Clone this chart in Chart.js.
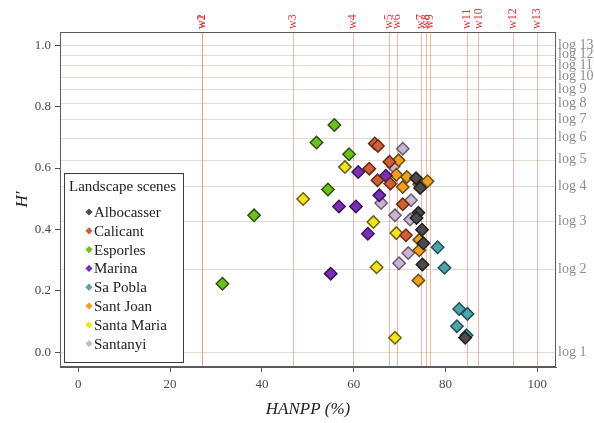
<!DOCTYPE html>
<html>
<head>
<meta charset="utf-8">
<script src="https://cdn.jsdelivr.net/npm/chart.js@4.4.0/dist/chart.umd.min.js"></script>
<style>
  html, body { margin: 0; padding: 0; background: #fff; }
  #wrap { width: 594px; height: 423px; }
</style>
</head>
<body>
<div id="wrap"><canvas id="chart" width="594" height="423"></canvas></div>
<script>
// HANPP (%) vs H' for each landscape scene
const albocasser = [[73.6, 0.567], [74.5, 0.535], [74.1, 0.454], [73.7, 0.437], [74.9, 0.399], [75.2, 0.355], [75.0, 0.286], [84.3, 0.047]];
const calicant = [[64.6, 0.680], [65.3, 0.672], [63.4, 0.598], [65.2, 0.560], [67.8, 0.620], [68.0, 0.549], [70.7, 0.482], [71.4, 0.381]];
const esporles = [[31.4, 0.223], [38.3, 0.446], [51.9, 0.683], [55.8, 0.740], [59.0, 0.645], [54.4, 0.530]];
const marina = [[55.0, 0.256], [56.8, 0.475], [60.5, 0.475], [61.0, 0.587], [63.1, 0.386], [65.6, 0.511], [67.0, 0.575]];
const saPobla = [[78.3, 0.342], [79.8, 0.275], [83.0, 0.141], [84.8, 0.125], [82.5, 0.085], [84.6, 0.055]];
const santJoan = [[69.8, 0.625], [69.3, 0.578], [71.6, 0.571], [70.7, 0.538], [74.3, 0.547], [76.1, 0.557], [74.3, 0.366], [74.3, 0.332], [74.1, 0.234]];
const santaMaria = [[49.0, 0.499], [58.1, 0.603], [64.3, 0.424], [69.3, 0.388], [65.0, 0.277], [69.0, 0.047]];
const santanyi = [[70.7, 0.663], [68.7, 0.605], [66.0, 0.486], [72.5, 0.495], [69.0, 0.446], [72.3, 0.432], [71.9, 0.323], [69.9, 0.290]];

const sceneNames = ["Albocasser", "Calicant", "Esporles", "Marina", "Sa Pobla", "Sant Joan", "Santa Maria", "Santanyi"];
const sceneData = [albocasser, calicant, esporles, marina, saPobla, santJoan, santaMaria, santanyi];

// reference lines: w thresholds on HANPP, log n levels on H'
const wLabels = ["w1", "w2", "w3", "w4", "w5", "w6", "w7", "w8", "w9", "w10", "w11", "w12", "w13"];
const wValues = [26.9, 26.9, 46.8, 59.8, 67.7, 69.5, 74.7, 75.7, 76.7, 87.2, 84.7, 94.7, 99.9];
const logLabels = ["log 1", "log 2", "log 3", "log 4", "log 5", "log 6", "log 7", "log 8", "log 9", "log 10", "log 11", "log 12", "log 13"];
const logValues = [0, 0.270, 0.428, 0.540, 0.627, 0.699, 0.759, 0.811, 0.857, 0.898, 0.935, 0.969, 1.0];

const xTicks = [0, 20, 40, 60, 80, 100];
const yTicks = [0, 0.2, 0.4, 0.6, 0.8, 1.0];

const fills = ["#4b4b4b", "#d0603a", "#6cc020", "#7a30b0", "#52a2aa", "#f0a020", "#f2e41e", "#c9b6d2"];
const edges = ["#1e1e1e", "#6a2a12", "#2a5010", "#3a1060", "#1f5058", "#6a4a10", "#6a6010", "#6a5a72"];

const SERIF = "'Liberation Serif', 'DejaVu Serif', serif";

const refLines = {
  id: "refLines",
  beforeDatasetsDraw(chart) {
    const { ctx, chartArea: a, scales } = chart;
    ctx.save();
    ctx.lineWidth = 1;
    ctx.strokeStyle = "#e2dbd4";
    logValues.forEach(v => {
      const y = Math.round(scales.y.getPixelForValue(v)) + 0.5;
      ctx.beginPath(); ctx.moveTo(a.left, y); ctx.lineTo(a.right, y); ctx.stroke();
    });
    ctx.strokeStyle = "rgba(224, 140, 110, 0.6)";
    wValues.forEach(v => {
      const x = Math.round(scales.x.getPixelForValue(v)) + 0.5;
      ctx.beginPath(); ctx.moveTo(x, a.top); ctx.lineTo(x, a.bottom); ctx.stroke();
    });

    ctx.font = "14px " + SERIF;
    ctx.fillStyle = "#8c8c8c";
    ctx.textAlign = "left";
    ctx.textBaseline = "middle";
    logValues.forEach((v, i) => {
      ctx.fillText(logLabels[i], a.right + 2, scales.y.getPixelForValue(v));
    });

    ctx.font = "12px " + SERIF;
    ctx.fillStyle = "#d63a3a";
    wValues.forEach((v, i) => {
      const x = scales.x.getPixelForValue(v);
      ctx.save();
      ctx.translate(x, a.top - 3);
      ctx.rotate(-Math.PI / 2);
      ctx.fillText(wLabels[i], 0, 0);
      ctx.restore();
    });
    ctx.restore();
  },
  afterDatasetsDraw(chart) {
    const { ctx, chartArea: a } = chart;
    ctx.save();
    ctx.strokeStyle = "#5a5a5a";
    ctx.lineWidth = 1;
    ctx.strokeRect(a.left + 0.5, a.top + 0.5, a.right - a.left - 1, a.bottom - a.top - 1);

    // legend box with small diamond keys
    const bx = 64, by = 173, bw = 119, bh = 189;
    ctx.fillStyle = "#fff";
    ctx.fillRect(bx, by, bw, bh);
    ctx.strokeStyle = "#3c3c3c";
    ctx.strokeRect(bx + 0.5, by + 0.5, bw, bh);
    ctx.font = "15px " + SERIF;
    ctx.textBaseline = "middle";
    ctx.fillStyle = "#222";
    ctx.fillText("Landscape scenes", 69, 187);
    sceneNames.forEach((name, i) => {
      const y = 212 + i * 18.8;
      ctx.fillStyle = fills[i];
      ctx.beginPath();
      ctx.moveTo(89, y - 3.6); ctx.lineTo(92.6, y); ctx.lineTo(89, y + 3.6); ctx.lineTo(85.4, y);
      ctx.closePath(); ctx.fill();
      ctx.fillStyle = "#222";
      ctx.fillText(name, 94, y + 1);
    });
    ctx.restore();
  }
};

const datasets = sceneNames.map((name, i) => ({
  label: name,
  data: sceneData[i].map(p => ({ x: p[0], y: p[1] })),
  pointStyle: "rectRot",
  pointRadius: 6.2,
  pointHoverRadius: 6.2,
  borderWidth: 1.5,
  backgroundColor: fills[i],
  borderColor: edges[i]
}));

new Chart(document.getElementById("chart"), {
  type: "scatter",
  data: { datasets },
  plugins: [refLines],
  options: {
    responsive: false,
    animation: false,
    layout: { padding: { top: 32, right: 38, left: 0, bottom: 0 } },
    plugins: { legend: { display: false }, tooltip: { enabled: false } },
    scales: {
      x: {
        min: -4, max: 104.1,
        afterBuildTicks: s => { s.ticks = xTicks.map(v => ({ value: v })); },
        afterFit: s => { s.height = 56; },
        grid: { drawOnChartArea: false, drawTicks: true, tickLength: 5, tickColor: "#555" },
        border: { display: true, color: "#5a5a5a" },
        ticks: { color: "#484848", font: { family: SERIF, size: 13 }, padding: 5, maxRotation: 0 },
        title: { display: true, text: "HANPP (%)", color: "#222", font: { family: SERIF, size: 17, style: "italic" }, padding: { top: 0, bottom: 3 } }
      },
      y: {
        min: -0.048, max: 1.043,
        afterBuildTicks: s => { s.ticks = yTicks.map(v => ({ value: v })); },
        afterFit: s => { s.width = 60; },
        grid: { drawOnChartArea: false, drawTicks: true, tickLength: 5, tickColor: "#555" },
        border: { display: true, color: "#5a5a5a" },
        ticks: { color: "#484848", font: { family: SERIF, size: 13 }, padding: 4, callback: v => v.toFixed(1) },
        title: { display: true, text: "H\u2032", color: "#222", font: { family: SERIF, size: 17, style: "italic" }, padding: { top: 12, bottom: 0 } }
      }
    }
  }
});
</script>
</body>
</html>
